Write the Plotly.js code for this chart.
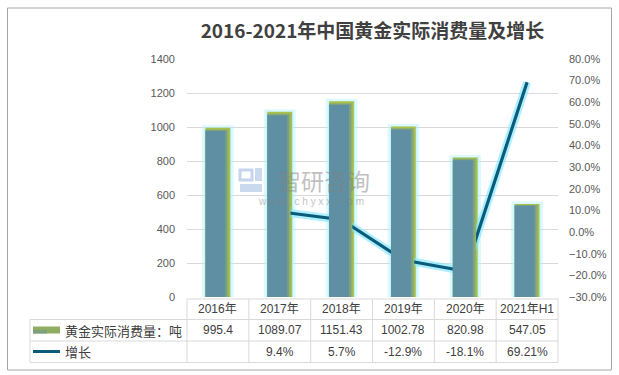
<!DOCTYPE html>
<html>
<head>
<meta charset="utf-8">
<script src="https://cdn.plot.ly/plotly-3.0.1.min.js"></script>
<style>html,body{margin:0;padding:0;background:#fff;}#chart{width:619px;height:375px;}</style>
</head>
<body>
<div id="chart"></div>
<script>
// ---- data ----
var categories = ['2016年', '2017年', '2018年', '2019年', '2020年', '2021年H1'];
var consumption = [995.4, 1089.07, 1151.43, 1002.78, 820.98, 547.05];   // 吨
var growth = [null, 9.4, 5.7, -12.9, -18.1, 69.21];                     // %
var seriesNames = ['黄金实际消费量：吨', '增长'];
var titleText = '2016-2021年中国黄金实际消费量及增长';

// ---- layout geometry ----
var W = 619, H = 375;
var M = {l: 187, r: 61, t: 59, b: 78};
var PW = W - M.l - M.r, PH = H - M.t - M.b;
function px(x) { return (x - M.l) / PW; }
function py(y) { return (H - M.b - y) / PH; }

var FONT = 'Liberation Sans, Noto Sans CJK SC, sans-serif';
var CJK = 'Noto Sans CJK SC, Liberation Sans, sans-serif';
var gridCol = '#d9d9d9';

var traces = [
  // bar glow
  {type: 'bar', x: categories, y: consumption, width: 0.43, offset: -0.215,
   marker: {color: 'rgba(175,242,255,0.85)', line: {color: 'rgba(175,242,255,0.45)', width: 5}},
   hoverinfo: 'skip', showlegend: false},
  // green edge
  {type: 'bar', x: categories, y: consumption, width: 0.40, offset: -0.20,
   marker: {color: '#abc24a', line: {width: 0}}, showlegend: false},
  // gradient steps (slightly lower tops via hidden overlay axes)
  {type: 'bar', x: categories, y: consumption, width: 0.375, offset: -0.20, yaxis: 'y3',
   marker: {color: '#93b069', line: {width: 0}}, showlegend: false},
  {type: 'bar', x: categories, y: consumption, width: 0.35, offset: -0.20, yaxis: 'y4',
   marker: {color: '#79a083', line: {width: 0}}, showlegend: false},
  {type: 'bar', x: categories, y: consumption, width: 0.32, offset: -0.20, yaxis: 'y5',
   marker: {color: '#5f8fa3', line: {width: 0}}, showlegend: false},
  // line glow
  {type: 'scatter', mode: 'lines', x: categories, y: growth, yaxis: 'y2',
   line: {color: 'rgba(130,232,255,0.65)', width: 8}, hoverinfo: 'skip', showlegend: false},
  {type: 'scatter', mode: 'lines', x: categories, y: growth, yaxis: 'y2',
   line: {color: '#0b5b7a', width: 3.2}, showlegend: false}
];

var shapes = [];
var annotations = [];

// outer border
shapes.push({type: 'rect', xref: 'paper', yref: 'paper', x0: px(7.5), x1: px(611.5), y0: py(370), y1: py(8),
  line: {color: '#a6a6a6', width: 1}, fillcolor: 'rgba(0,0,0,0)', layer: 'below'});

// table lines
var tL = 30, tX0 = M.l, tX1 = W - M.r;
var rowY = [299, 319.5, 341, 362.5];
function hline(x0, x1, y) {
  shapes.push({type: 'line', xref: 'paper', yref: 'paper', x0: px(x0), x1: px(x1), y0: py(y), y1: py(y),
    line: {color: gridCol, width: 1}});
}
function vline(x, y0, y1) {
  shapes.push({type: 'line', xref: 'paper', yref: 'paper', x0: px(x), x1: px(x), y0: py(y0), y1: py(y1),
    line: {color: gridCol, width: 1}});
}
hline(tX0, tX1, rowY[0]);
hline(tL, tX1, rowY[1]);
hline(tL, tX1, rowY[2]);
hline(tL, tX1, rowY[3]);
vline(tL, rowY[1], rowY[3]);
var colW = (tX1 - tX0) / categories.length;
for (var i = 0; i <= categories.length; i++) vline(tX0 + i * colW, rowY[0], rowY[3]);

// legend swatches in table
shapes.push({type: 'rect', xref: 'paper', yref: 'paper', x0: px(33), x1: px(60), y0: py(333.5), y1: py(326.5),
  line: {width: 0}, fillcolor: '#8fae62'});
shapes.push({type: 'rect', xref: 'paper', yref: 'paper', x0: px(33), x1: px(47), y0: py(333.5), y1: py(330),
  line: {width: 0}, fillcolor: '#7d9f80'});
shapes.push({type: 'line', xref: 'paper', yref: 'paper', x0: px(33), x1: px(60), y0: py(351.5), y1: py(351.5),
  line: {color: '#0b5b7a', width: 3}});

// table text
function fmtNum(v) { return String(v); }
for (var j = 0; j < categories.length; j++) {
  annotations.push({xref: 'x', yref: 'paper', x: categories[j], y: py((rowY[0] + rowY[1]) / 2),
    text: categories[j], showarrow: false, font: {family: FONT, size: 12, color: '#404040'}, xanchor: 'center', yanchor: 'middle'});
  annotations.push({xref: 'x', yref: 'paper', x: categories[j], y: py((rowY[1] + rowY[2]) / 2),
    text: fmtNum(consumption[j]), showarrow: false, font: {family: FONT, size: 12, color: '#404040'}, xanchor: 'center', yanchor: 'middle'});
  if (growth[j] !== null) {
    annotations.push({xref: 'x', yref: 'paper', x: categories[j], y: py((rowY[2] + rowY[3]) / 2),
      text: growth[j] + '%', showarrow: false, font: {family: FONT, size: 12, color: '#404040'}, xanchor: 'center', yanchor: 'middle'});
  }
}
annotations.push({xref: 'paper', yref: 'paper', x: px(63), y: py((rowY[1] + rowY[2]) / 2), text: seriesNames[0],
  showarrow: false, xanchor: 'left', yanchor: 'middle', font: {family: CJK, size: 13, color: '#404040'}});
annotations.push({xref: 'paper', yref: 'paper', x: px(63), y: py((rowY[2] + rowY[3]) / 2), text: seriesNames[1],
  showarrow: false, xanchor: 'left', yanchor: 'middle', font: {family: CJK, size: 13, color: '#404040'}});

// watermark
annotations.push({xref: 'paper', yref: 'paper', x: px(324), y: py(180), text: '智研咨询', showarrow: false,
  xanchor: 'center', yanchor: 'middle', font: {family: CJK, size: 23, color: 'rgba(130,130,130,0.5)'}});
annotations.push({xref: 'paper', yref: 'paper', x: px(311), y: py(201), text: 'w w w . c h y x x . c o m', showarrow: false,
  xanchor: 'center', yanchor: 'middle', font: {family: FONT, size: 10, color: 'rgba(130,130,130,0.5)'}});
shapes.push({type: 'rect', xref: 'paper', yref: 'paper', x0: px(240), x1: px(252), y0: py(180), y1: py(170),
  line: {color: 'rgba(160,185,225,0.6)', width: 3}, fillcolor: 'rgba(0,0,0,0)'});
shapes.push({type: 'rect', xref: 'paper', yref: 'paper', x0: px(240), x1: px(262), y0: py(192), y1: py(184),
  line: {width: 0}, fillcolor: 'rgba(160,185,225,0.55)'});
shapes.push({type: 'rect', xref: 'paper', yref: 'paper', x0: px(255), x1: px(262), y0: py(181), y1: py(168),
  line: {width: 0}, fillcolor: 'rgba(160,185,225,0.55)'});

var hidden = {overlaying: 'y', visible: false, showgrid: false, fixedrange: true};
var layout = {
  width: W, height: H,
  margin: M,
  paper_bgcolor: '#ffffff', plot_bgcolor: '#ffffff',
  barmode: 'overlay',
  showlegend: false,
  title: {text: '<b>' + titleText + '</b>', x: 0.5, xref: 'paper', xanchor: 'center',
    y: 1 - 31 / H, yref: 'container', yanchor: 'middle',
    font: {family: CJK, size: 19, color: '#404040'}},
  xaxis: {type: 'category', range: [-0.5, categories.length - 0.5], showticklabels: false,
    showgrid: false, zeroline: false, showline: false, ticks: ''},
  yaxis: {range: [0, 1400], dtick: 200, tick0: 0, showgrid: true, gridcolor: gridCol, gridwidth: 1,
    zeroline: false, showline: false, ticks: '', ticklabelstandoff: 11,
    tickfont: {family: FONT, size: 11, color: '#595959'}},
  yaxis2: {overlaying: 'y', side: 'right', range: [-30, 80], dtick: 10, tick0: 0,
    tickformat: '.1f', ticksuffix: '%', showgrid: false, zeroline: false, showline: false, ticks: '',
    ticklabelstandoff: 10, tickfont: {family: FONT, size: 11, color: '#595959'}},
  yaxis3: Object.assign({range: [0, 1412]}, hidden),
  yaxis4: Object.assign({range: [0, 1420]}, hidden),
  yaxis5: Object.assign({range: [0, 1428]}, hidden),
  shapes: shapes,
  annotations: annotations
};

Plotly.newPlot('chart', traces, layout, {displayModeBar: false, staticPlot: true});
</script>
</body>
</html>
